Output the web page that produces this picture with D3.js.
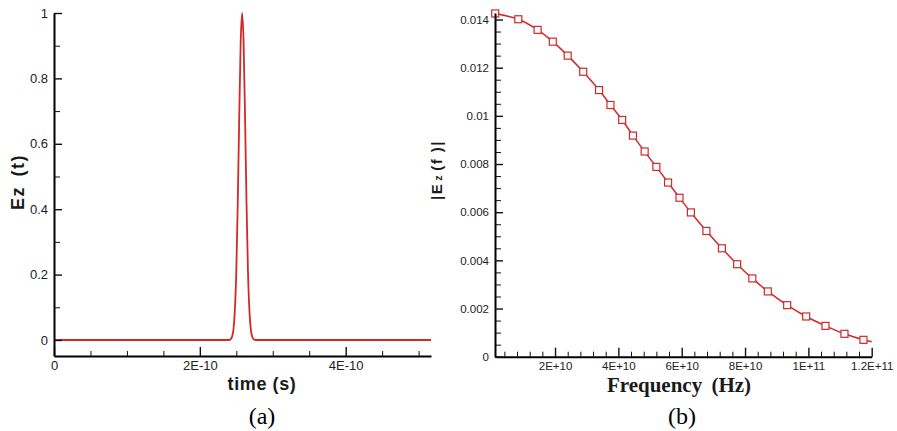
<!DOCTYPE html>
<html>
<head>
<style>
  body { margin: 0; background: #fff; }
  svg { display: block; }
  .tick text { fill: #222; }
</style>
<script src="https://d3js.org/d3.v7.min.js"></script>
</head>
<body>
<script>
  // panel (a): gaussian pulse
  const pulseTime = [0, 2.40e-10, 2.42e-10, 2.44e-10, 2.46e-10, 2.48e-10, 2.50e-10, 2.52e-10, 2.54e-10,
                     2.56e-10, 2.58e-10, 2.60e-10, 2.62e-10, 2.64e-10, 2.66e-10, 2.68e-10, 2.70e-10,
                     2.72e-10, 2.74e-10, 2.78e-10, 5.17e-10];
  const pulseEz = [0, 0, 0.002, 0.009, 0.03, 0.09, 0.21, 0.42, 0.68,
                   0.91, 1.0, 0.91, 0.68, 0.42, 0.21, 0.09, 0.03,
                   0.009, 0.002, 0, 0];
  const timeTicks = [0, 2e-10, 4e-10];
  const timeTickLabels = ["0", "2E-10", "4E-10"];
  const ezTicks = [0, 0.2, 0.4, 0.6, 0.8, 1];
  const ezTickLabels = ["0", "0.2", "0.4", "0.6", "0.8", "1"];

  // panel (b): spectrum magnitude, square markers
  const freq = [0.11e10, 0.84e10, 1.45e10, 1.93e10, 2.40e10, 2.89e10, 3.39e10, 3.75e10, 4.12e10,
                4.46e10, 4.83e10, 5.20e10, 5.57e10, 5.93e10, 6.29e10, 6.78e10, 7.27e10, 7.75e10,
                8.23e10, 8.72e10, 9.33e10, 9.93e10, 10.54e10, 11.14e10, 11.74e10];
  const magEz = [0.01425, 0.01401, 0.01357, 0.01308, 0.01250, 0.01183, 0.01107, 0.01045, 0.00983,
                 0.00918, 0.00852, 0.00788, 0.00723, 0.00660, 0.00599, 0.00522, 0.00450, 0.00384,
                 0.00325, 0.00271, 0.00214, 0.00167, 0.00128, 0.00095, 0.00070];
  const freqEnd = [12.0e10, 0.00062]; // curve continues past last marker
  const freqTicks = [2e10, 4e10, 6e10, 8e10, 1e11, 1.2e11];
  const freqTickLabels = ["2E+10", "4E+10", "6E+10", "8E+10", "1E+11", "1.2E+11"];
  const magTicks = [0, 0.002, 0.004, 0.006, 0.008, 0.01, 0.012, 0.014];
  const magTickLabels = ["0", "0.002", "0.004", "0.006", "0.008", "0.01", "0.012", "0.014"];

  const red = "#d02a2a";
  const sans = "'Liberation Sans', Arial, Helvetica, sans-serif";
  const serif = "'Liberation Serif', 'Times New Roman', serif";
  const W = 897, H = 431;

  const svg = d3.select("body").append("svg")
    .attr("width", W).attr("height", H)
    .style("font-family", sans);

  function drawAxes(g, x, y, o) {
    // minor ticks first, no labels
    g.append("g").attr("transform", `translate(0,${o.yPix})`)
      .call(d3.axisBottom(x).tickValues(o.xMinor).tickSize(-5).tickSizeOuter(0).tickFormat(""))
      .call(s => { s.select(".domain").remove(); s.selectAll("text").remove(); });
    g.append("g").attr("transform", `translate(${o.xPix},0)`)
      .call(d3.axisLeft(y).tickValues(o.yMinor).tickSize(-6).tickSizeOuter(0).tickFormat(""))
      .call(s => { s.select(".domain").remove(); s.selectAll("text").remove(); });

    const xa = g.append("g").attr("transform", `translate(0,${o.yPix})`)
      .call(d3.axisBottom(x).tickValues(o.xTicks).tickSize(-9).tickSizeOuter(0).tickPadding(5)
        .tickFormat((d, i) => o.xLabels[i]));
    const ya = g.append("g").attr("transform", `translate(${o.xPix},0)`)
      .call(d3.axisLeft(y).tickValues(o.yTicks).tickSize(-8).tickSizeOuter(0).tickPadding(6)
        .tickFormat((d, i) => o.yLabels[i]));
    [xa, ya].forEach(a => {
      a.attr("font-family", sans).attr("font-size", o.fs);
      a.selectAll("text").style("font-family", sans).style("font-size", o.fs + "px");
      a.select(".domain").attr("stroke-width", 2);
      a.selectAll(".tick line").attr("stroke-width", 1.4);
    });
    g.selectAll(".tick line").attr("stroke", "#111");
  }

  // ---- panel (a)
  const xa = d3.scaleLinear().domain([0, 5.17e-10]).range([54, 431]);
  const ya = d3.scaleLinear().domain([-0.049, 1]).range([356, 13]);
  const ga = svg.append("g");

  ga.append("path")
    .datum(pulseTime.map((t, i) => [t, pulseEz[i]]))
    .attr("fill", "none").attr("stroke", red).attr("stroke-width", 1.8)
    .attr("d", d3.line().x(d => xa(d[0])).y(d => ya(d[1])).curve(d3.curveMonotoneX));

  drawAxes(ga, xa, ya, {
    yPix: 356, xPix: 54, fs: 13,
    xTicks: timeTicks, xLabels: timeTickLabels,
    xMinor: d3.range(0.5e-10, 5.1e-10, 0.5e-10).filter((v, i) => (i + 1) % 4 !== 0),
    yTicks: ezTicks, yLabels: ezTickLabels,
    yMinor: [0.1, 0.3, 0.5, 0.7, 0.9]
  });

  ga.append("text")
    .attr("transform", "translate(24,182) rotate(-90)")
    .attr("text-anchor", "middle")
    .style("font-size", "18px").style("font-weight", "bold").style("letter-spacing", "1.5px")
    .style("word-spacing", "3px").attr("fill", "#1a1a1a")
    .text("Ez (t)");

  ga.append("text")
    .attr("x", 262).attr("y", 390).attr("text-anchor", "middle")
    .style("font-size", "18px").style("font-weight", "bold").style("letter-spacing", "0.6px")
    .attr("fill", "#1a1a1a")
    .text("time (s)");

  ga.append("text")
    .attr("x", 262).attr("y", 424).attr("text-anchor", "middle")
    .style("font-family", serif).style("font-size", "24px")
    .text("(a)");

  // ---- panel (b)
  const xb = d3.scaleLinear().domain([0.104e10, 1.2e11]).range([495, 871.7]);
  const yb = d3.scaleLinear().domain([0, 0.01427]).range([356.7, 13]);
  const gb = svg.append("g");

  const specPts = freq.map((f, i) => [f, magEz[i]]).concat([freqEnd]);
  gb.append("path")
    .datum(specPts)
    .attr("fill", "none").attr("stroke", red).attr("stroke-width", 1.5)
    .attr("d", d3.line().x(d => xb(d[0])).y(d => yb(d[1])).curve(d3.curveCatmullRom));

  gb.selectAll("rect.mk")
    .data(freq)
    .enter()
    .append("rect")
    .attr("class", "mk")
    .attr("x", d => xb(d) - 3.5)
    .attr("y", (d, i) => yb(magEz[i]) - 3.5)
    .attr("width", 7).attr("height", 7)
    .attr("fill", "#fff").attr("stroke", red).attr("stroke-width", 1.2);

  drawAxes(gb, xb, yb, {
    yPix: 356.7, xPix: 495, fs: 11.5,
    xTicks: freqTicks, xLabels: freqTickLabels,
    xMinor: d3.range(0.4e10, 12e10, 0.4e10).filter((v, i) => (i + 1) % 5 !== 0),
    yTicks: magTicks, yLabels: magTickLabels,
    yMinor: d3.range(0.0005, 0.0142, 0.0005).filter((v, i) => (i + 1) % 4 !== 0)
  });

  const yl = gb.append("text")
    .attr("transform", "translate(442,170) rotate(-90)")
    .attr("text-anchor", "middle")
    .style("font-size", "15px").style("font-weight", "bold").style("letter-spacing", "1.5px")
    .attr("fill", "#1a1a1a");
  yl.append("tspan").text("|E");
  yl.append("tspan").style("font-size", "11px").attr("dx", 2).text("z");
  yl.append("tspan").attr("dx", 3).text("(f )|");

  gb.append("text")
    .attr("x", 679).attr("y", 391.5).attr("text-anchor", "middle")
    .style("font-family", serif).style("font-size", "21px")
    .style("font-weight", "bold").style("word-spacing", "4px").attr("fill", "#1a1a1a")
    .text("Frequency (Hz)");

  gb.append("text")
    .attr("x", 682).attr("y", 424).attr("text-anchor", "middle")
    .style("font-family", serif).style("font-size", "24px")
    .text("(b)");
</script>
</body>
</html>
